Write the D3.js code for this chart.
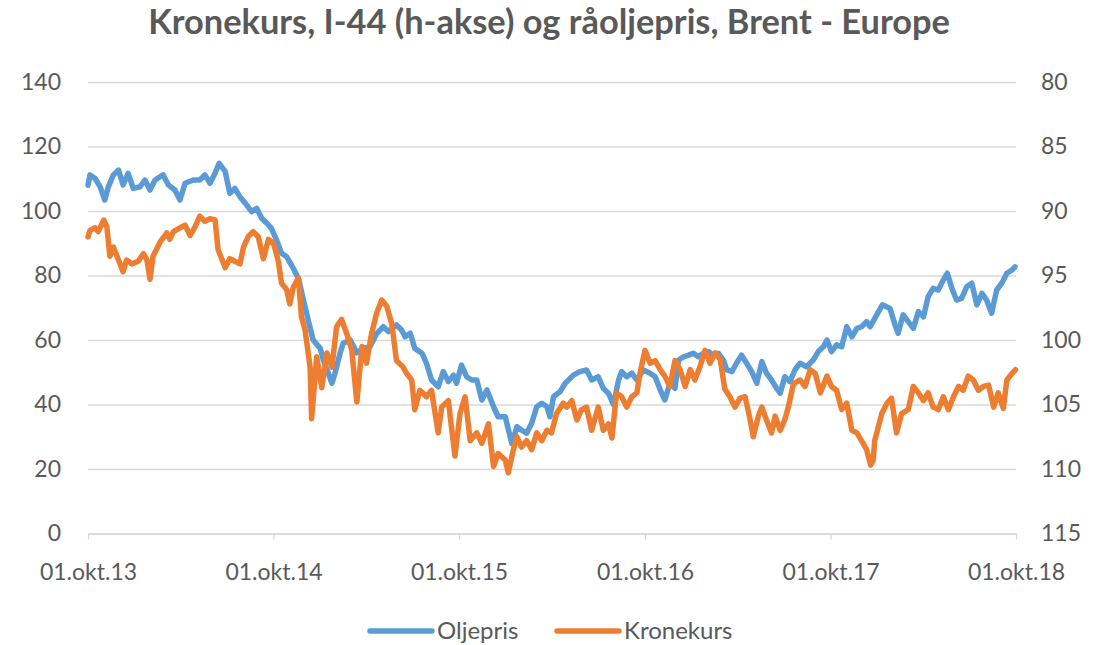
<!DOCTYPE html>
<html lang="no">
<head>
  <meta charset="UTF-8">
  <title>Kronekurs og råoljepris</title>
  <script src="https://d3js.org/d3.v7.min.js"></script>
  <style>
    body { margin: 0; background: #fff; font-family: Lato, "Open Sans", sans-serif; }
    svg text { fill: #595959; }
  </style>
</head>
<body>
  <svg width="1109" height="645"></svg>
  <script>
    // Data: dates and values
    const oilDates = ["2013-10-01","2013-10-05","2013-10-15","2013-10-25","2013-11-03","2013-11-10","2013-11-20","2013-11-30","2013-12-09","2013-12-19","2013-12-29",
      "2014-01-11","2014-01-21","2014-01-31","2014-02-10","2014-02-26","2014-03-08","2014-03-21","2014-03-31","2014-04-10","2014-04-26","2014-05-09","2014-05-19","2014-05-29","2014-06-08","2014-06-16","2014-06-28",
      "2014-07-07","2014-07-17","2014-07-27","2014-08-06","2014-08-19","2014-08-29","2014-09-08","2014-09-18","2014-09-27","2014-10-07","2014-10-17","2014-10-27","2014-11-09","2014-11-19","2014-11-29","2014-12-09","2014-12-18",
      "2015-01-01","2015-01-07","2015-01-17","2015-01-24","2015-01-30","2015-02-09","2015-02-15","2015-03-01","2015-03-14","2015-03-27","2015-04-09","2015-04-22","2015-05-05","2015-05-15","2015-05-31","2015-06-10","2015-06-17","2015-06-27",
      "2015-07-06","2015-07-20","2015-07-29","2015-08-08","2015-08-21","2015-08-31","2015-09-10","2015-09-20","2015-09-26","2015-10-06","2015-10-16","2015-10-26","2015-11-05","2015-11-15","2015-11-25","2015-12-08","2015-12-17","2015-12-31",
      "2016-01-13","2016-01-23","2016-02-01","2016-02-11","2016-02-21","2016-03-02","2016-03-12","2016-03-22","2016-03-28","2016-04-04","2016-04-17","2016-04-27","2016-05-13","2016-05-26","2016-06-08","2016-06-18","2016-07-01","2016-07-11","2016-07-21","2016-07-31",
      "2016-08-10","2016-08-16","2016-08-26","2016-09-05","2016-09-15","2016-09-28","2016-10-11","2016-10-21","2016-10-31","2016-11-09","2016-11-19","2016-11-29","2016-12-06","2016-12-16","2016-12-26",
      "2017-01-04","2017-01-14","2017-01-24","2017-02-03","2017-02-12","2017-02-22","2017-03-04","2017-03-11","2017-03-21","2017-03-30","2017-04-09","2017-04-19","2017-04-29","2017-05-09","2017-05-19","2017-05-28","2017-06-07","2017-06-17","2017-06-24",
      "2017-07-03","2017-07-13","2017-07-23","2017-08-02","2017-08-15","2017-08-28","2017-09-07","2017-09-17","2017-09-24","2017-10-03","2017-10-13","2017-10-23","2017-11-02","2017-11-12","2017-11-22","2017-12-01","2017-12-11","2017-12-18","2017-12-31",
      "2018-01-11","2018-01-26","2018-02-05","2018-02-11","2018-02-21","2018-03-03","2018-03-13","2018-03-23","2018-04-02","2018-04-11","2018-04-21","2018-05-01","2018-05-11","2018-05-19","2018-05-28","2018-06-06","2018-06-16","2018-06-26",
      "2018-07-06","2018-07-16","2018-07-26","2018-08-04","2018-08-14","2018-08-24","2018-09-03","2018-09-13","2018-09-23","2018-09-29"];
    const oilValues = [108,111.2,110.1,107.5,103.4,107.5,111.2,112.7,108.1,111.7,107,
      107.5,109.6,106.5,109.6,111.2,108.1,106.5,103.4,108.6,109.6,109.6,111.2,108.6,111.7,114.8,112.2,
      105.5,107,104.4,102.5,99.8,100.8,97.7,96.2,94.6,91,86.9,85.8,82.2,79.1,72.4,65.7,60,
      57.4,53.8,49.7,46.6,49.7,55.9,59,60,56,57.5,58,62,64.1,62.6,64.7,63.1,61,62.1,
      57.4,55.9,52.8,47.6,45.5,50.2,47.1,49.1,46.6,52.2,48.6,47.6,47.6,41.4,44.5,39.3,36.2,36.2,
      27.9,33.1,32.1,31.1,34.2,39.3,40.4,39.3,36.2,42.4,44,46.6,49.1,50.2,50.7,47.6,48.6,45,43.5,40,
      47.6,50.2,48.6,49.7,47.6,50.7,49.7,48.6,44.5,41.4,46.6,45,53.8,54.8,55.3,
      55.9,54.8,55.9,56.4,55.3,55.9,53.8,50.7,50.2,52.8,55.3,52.8,50.2,46.6,53.3,49.7,47.6,45,43.5,
      48.6,47.1,50.7,52.8,51.7,53.8,56.4,57.9,60,56.4,58.5,57.9,64.1,61,63.6,64.1,65.7,64.1,67.8,
      70.9,69.8,64.7,62.1,67.8,65.7,63.6,68.8,67.2,73.4,76,75.5,78.6,80.7,76,72.4,72.9,76.5,
      77.6,70.9,74.5,72.4,68.3,75.5,77.6,80.7,81.7,82.7];

    const krDates = ["2013-10-01","2013-10-05","2013-10-15","2013-10-21","2013-11-01","2013-11-07","2013-11-13","2013-11-20","2013-11-30","2013-12-09","2013-12-16","2013-12-26",
      "2014-01-08","2014-01-18","2014-01-25","2014-01-31","2014-02-06","2014-02-20","2014-03-05","2014-03-11","2014-03-18","2014-03-31","2014-04-10","2014-04-20","2014-04-30","2014-05-09","2014-05-19","2014-05-29","2014-06-08","2014-06-14","2014-06-28",
      "2014-07-07","2014-07-17","2014-07-27","2014-08-03","2014-08-12","2014-08-22","2014-09-01","2014-09-11","2014-09-21","2014-10-01","2014-10-10","2014-10-17","2014-10-27","2014-11-02","2014-11-09","2014-11-19","2014-11-25","2014-12-02","2014-12-12","2014-12-15","2014-12-25",
      "2015-01-04","2015-01-14","2015-01-24","2015-02-02","2015-02-12","2015-02-22","2015-03-04","2015-03-14","2015-03-24","2015-04-02","2015-04-12","2015-04-22","2015-05-02","2015-05-12","2015-05-22","2015-05-31","2015-06-13","2015-06-20","2015-06-30",
      "2015-07-06","2015-07-16","2015-07-29","2015-08-08","2015-08-21","2015-08-28","2015-09-10","2015-09-23","2015-10-03","2015-10-13","2015-10-23","2015-11-05","2015-11-15","2015-11-28","2015-12-08","2015-12-17","2015-12-31",
      "2016-01-06","2016-01-16","2016-01-23","2016-02-01","2016-02-11","2016-02-21","2016-03-02","2016-03-12","2016-03-22","2016-03-31","2016-04-10","2016-04-23","2016-04-30","2016-05-10","2016-05-20","2016-05-29","2016-06-08","2016-06-18",
      "2016-07-01","2016-07-11","2016-07-21","2016-07-28","2016-08-06","2016-08-16","2016-08-26","2016-09-05","2016-09-15","2016-09-21","2016-10-01","2016-10-11","2016-10-21","2016-10-31","2016-11-09","2016-11-19","2016-11-29","2016-12-09","2016-12-19","2016-12-29",
      "2017-01-07","2017-01-17","2017-01-27","2017-02-06","2017-02-16","2017-02-26","2017-03-07","2017-03-17","2017-03-27","2017-04-06","2017-04-16","2017-04-26","2017-05-02","2017-05-12","2017-05-19","2017-05-28","2017-06-07","2017-06-14","2017-06-24",
      "2017-07-03","2017-07-10","2017-07-20","2017-08-02","2017-08-12","2017-08-22","2017-09-01","2017-09-11","2017-09-24","2017-10-03","2017-10-13","2017-10-23","2017-11-02","2017-11-12","2017-11-22","2017-12-01","2017-12-11","2017-12-19","2017-12-24","2017-12-27","2017-12-31",
      "2018-01-10","2018-01-20","2018-01-29","2018-02-08","2018-02-18","2018-03-03","2018-03-13","2018-03-23","2018-04-02","2018-04-11","2018-04-21","2018-05-01","2018-05-11","2018-05-21","2018-05-31","2018-06-10","2018-06-19","2018-06-29",
      "2018-07-09","2018-07-19","2018-07-29","2018-08-08","2018-08-18","2018-08-27","2018-09-06","2018-09-13","2018-09-23","2018-09-30"];
    const krValues = [92,91.5,91.3,91.6,90.7,91.2,93.5,92.8,93.8,94.7,93.8,94.1,
      93.9,93.3,93.8,95.3,93.5,92.4,91.7,92.2,91.6,91.3,91.1,91.9,91.2,90.4,90.8,90.6,90.7,93,94.4,
      93.7,93.9,94.1,92.8,92,91.6,92,93.7,92.2,92.5,93.8,95.6,96.1,97.2,95.9,95.2,98.2,99.2,102.1,106.1,101.3,
      103.7,101,102.1,99,98.4,99.5,100.8,104.8,100.5,101.8,99.5,97.9,96.9,97.4,98.8,101.6,102.1,102.6,103.1,
      105.4,103.9,104.4,103.9,107.2,105.2,104.7,109,105.7,104.4,107.8,107.2,108,106.5,109.8,108.8,109.3,
      110.3,108.5,107.5,108.3,107.8,108.5,107.2,107.8,107,107.2,105.7,104.9,105.2,104.7,106.2,105.4,105.2,107,
      105.2,107,106.5,107.6,104.1,104.4,105.2,104.4,104.1,102.6,100.8,101.8,101.6,102.3,102.8,103.6,101.6,102.3,103.6,102.3,
      103.1,102.1,100.8,101.8,101,101.5,103.8,104.4,105.2,104.5,104.4,106.2,107.5,105.9,105.2,106.2,107.2,105.9,107,
      106.2,105.2,103.4,103.1,103.6,102.3,102.6,104.1,102.8,103.6,103.9,105.4,104.9,107,107.2,107.8,108.5,109.7,109.3,107.8,107.2,
      105.7,104.9,104.5,107.2,105.7,105.4,103.6,104.1,104.7,104.1,105.2,105.4,104.4,105.4,104.4,103.6,103.9,102.8,
      103.1,103.9,103.6,103.5,105.2,104.1,105.3,103.1,102.6,102.3];

    const leftTicks = [0, 20, 40, 60, 80, 100, 120, 140];
    const rightTicks = [80, 85, 90, 95, 100, 105, 110, 115];
    const xTickDates = ["2013-10-01","2014-10-01","2015-10-01","2016-10-01","2017-10-01","2018-10-01"];
    const xTickLabels = ["01.okt.13","01.okt.14","01.okt.15","01.okt.16","01.okt.17","01.okt.18"];
    const seriesNames = ["Oljepris", "Kronekurs"];
    const colors = ["#5B9BD5", "#ED7D31"];

    const parse = d3.timeParse("%Y-%m-%d");
    const oil = oilDates.map((d, i) => ({ date: parse(d), value: oilValues[i] }));
    const kr = krDates.map((d, i) => ({ date: parse(d), value: krValues[i] }));

    const svg = d3.select("svg"),
          margin = { top: 82, right: 93, bottom: 111.5, left: 88 },
          width = +svg.attr("width"),
          height = +svg.attr("height");
    const x0 = margin.left, x1 = width - margin.right,
          y0 = height - margin.bottom, y1 = margin.top;

    const x = d3.scaleTime()
      .domain([parse(xTickDates[0]), parse(xTickDates[xTickDates.length - 1])])
      .range([x0, x1]);
    const yLeft = d3.scaleLinear().domain([0, 140]).range([y0, y1]);
    const yRight = d3.scaleLinear().domain([80, 115]).range([y1, y0]); // inverted axis

    // Left axis + gridlines
    const gLeft = svg.append("g")
      .attr("transform", `translate(${x0},0)`)
      .call(d3.axisLeft(yLeft).tickValues(leftTicks).tickSize(-(x1 - x0)).tickPadding(27));
    gLeft.select(".domain").remove();
    gLeft.selectAll(".tick line").attr("stroke", "#d9d9d9").attr("stroke-width", 1.3);
    gLeft.selectAll(".tick text").attr("font-size", 23).attr("font-family", "Lato").style("fill", "#595959");

    // Right axis
    const gRight = svg.append("g")
      .attr("transform", `translate(${x1},0)`)
      .call(d3.axisRight(yRight).tickValues(rightTicks).tickSize(0).tickPadding(25));
    gRight.select(".domain").remove();
    gRight.selectAll(".tick text").attr("font-size", 23).attr("font-family", "Lato").style("fill", "#595959");

    // Bottom axis
    const gBottom = svg.append("g")
      .attr("transform", `translate(0,${y0})`)
      .call(d3.axisBottom(x)
        .tickValues(xTickDates.map(parse))
        .tickFormat((d, i) => xTickLabels[i])
        .tickSize(6).tickSizeOuter(0).tickPadding(24));
    gBottom.select(".domain").attr("stroke", "#d9d9d9").attr("stroke-width", 1.3);
    gBottom.selectAll(".tick line").attr("stroke", "#d9d9d9").attr("stroke-width", 1.3);
    gBottom.selectAll(".tick text").attr("font-size", 23).attr("font-family", "Lato").style("fill", "#595959");

    // Lines
    const lineLeft = d3.line().x(d => x(d.date)).y(d => yLeft(d.value));
    const lineRight = d3.line().x(d => x(d.date)).y(d => yRight(d.value));

    svg.append("path").datum(oil)
      .attr("d", lineLeft)
      .attr("fill", "none").attr("stroke", colors[0]).attr("stroke-width", 5.5)
      .attr("stroke-linejoin", "round").attr("stroke-linecap", "round");

    svg.append("path").datum(kr)
      .attr("d", lineRight)
      .attr("fill", "none").attr("stroke", colors[1]).attr("stroke-width", 5.5)
      .attr("stroke-linejoin", "round").attr("stroke-linecap", "round");

    // Title, fitted to the width in the picture
    const title = svg.append("text")
      .attr("x", 549).attr("y", 34)
      .attr("text-anchor", "middle")
      .attr("font-family", "Lato").attr("font-weight", "bold")
      .attr("font-size", 28)
      .style("fill", "#595959")
      .text("Kronekurs, I-44 (h-akse) og råoljepris, Brent - Europe");
    const tw = title.node().getComputedTextLength();
    title.attr("font-size", 28 * 802 / tw);

    // Legend
    const legendX = [370, 557];
    const legend = svg.append("g");
    seriesNames.forEach((name, i) => {
      legend.append("line")
        .attr("x1", legendX[i]).attr("x2", legendX[i] + 62)
        .attr("y1", 631).attr("y2", 631)
        .attr("stroke", colors[i]).attr("stroke-width", 5.5).attr("stroke-linecap", "round");
      legend.append("text")
        .attr("x", legendX[i] + 67).attr("y", 639)
        .attr("font-size", 24).attr("font-family", "Lato")
        .style("fill", "#595959")
        .text(name);
    });
  </script>
</body>
</html>
